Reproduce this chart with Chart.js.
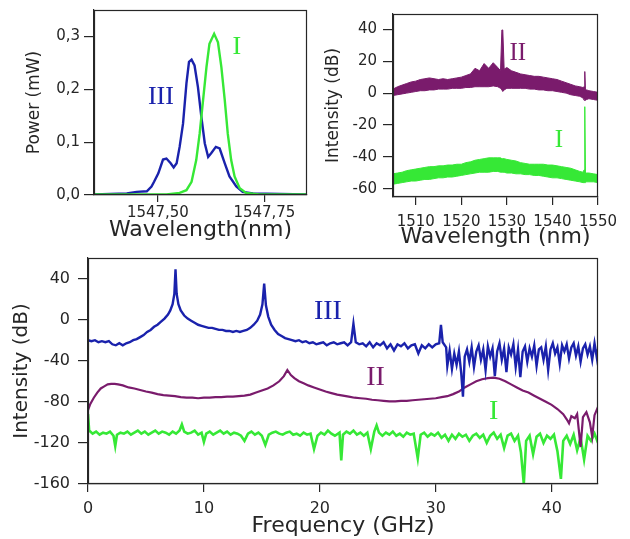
<!DOCTYPE html>
<html>
<head>
<meta charset="utf-8">
<title>Laser spectra</title>
<script src="https://cdn.jsdelivr.net/npm/chart.js@4.4.1/dist/chart.umd.min.js"></script>
<style>
  html, body { margin: 0; padding: 0; background: #fff; }
  #wrap { position: relative; width: 630px; height: 539px; overflow: hidden; }
  canvas { position: absolute; }
  #optical { left: 0; top: -6px; }
  #broad { left: 315px; top: -4px; }
  #rf { left: 0; top: 240px; }
</style>
</head>
<body>
<div id="wrap">
  <canvas id="optical" width="315" height="251"></canvas>
  <canvas id="broad" width="315" height="254"></canvas>
  <canvas id="rf" width="630" height="299"></canvas>
</div>
<script>
// --- top left: optical spectrum, linear power (mW) vs wavelength (nm)
const powerIII = [
  [1547.35, 0.001], [1547.427, 0.003], [1547.45, 0.006], [1547.474, 0.007], [1547.485, 0.016],
  [1547.491, 0.025], [1547.501, 0.041], [1547.512, 0.067], [1547.52, 0.069], [1547.53, 0.06],
  [1547.537, 0.052], [1547.544, 0.06], [1547.551, 0.091], [1547.559, 0.135], [1547.567, 0.211],
  [1547.573, 0.252], [1547.579, 0.256], [1547.586, 0.245], [1547.594, 0.204], [1547.602, 0.148],
  [1547.61, 0.098], [1547.618, 0.072], [1547.625, 0.079], [1547.636, 0.091], [1547.645, 0.088],
  [1547.657, 0.06], [1547.668, 0.035], [1547.684, 0.016], [1547.699, 0.006], [1547.723, 0.003],
  [1547.85, 0.001]
];
const powerI = [
  [1547.35, 0.001], [1547.52, 0.001], [1547.551, 0.004], [1547.567, 0.009], [1547.579, 0.025],
  [1547.59, 0.066], [1547.598, 0.116], [1547.606, 0.179], [1547.614, 0.242], [1547.621, 0.286],
  [1547.632, 0.305], [1547.641, 0.289], [1547.649, 0.242], [1547.657, 0.179], [1547.664, 0.116],
  [1547.672, 0.066], [1547.68, 0.035], [1547.692, 0.013], [1547.707, 0.004], [1547.738, 0.001],
  [1547.85, 0.001]
];
const powerTicks = [0, 0.1, 0.2, 0.3];
const wlTicks1 = [1547.5, 1547.75];

// --- top right: broadband spectra (dB), noisy bands given as upper / lower envelopes
const wl2 = [1505, 1506, 1507, 1508, 1509, 1510, 1511, 1512, 1513, 1514, 1515, 1516, 1517, 1518,
  1519, 1520, 1521, 1522, 1523, 1524, 1525, 1526, 1527, 1528, 1528.6, 1528.9, 1529.1, 1529.4,
  1530, 1531, 1532, 1533, 1534, 1535, 1536, 1537, 1538, 1539, 1540, 1541, 1542, 1543, 1544,
  1545, 1546, 1546.7, 1546.95, 1547.1, 1547.25, 1547.5, 1548, 1549, 1550];
const bandIIHigh = [2.5, 4, 5, 6, 7, 7.5, 8.5, 9, 9.5, 9, 8.5, 9, 8.5, 9,
  9.5, 10, 11, 12, 15.5, 14, 18.5, 15.5, 19, 16, 14, 39.5, 39.5, 15,
  16, 14, 13, 12, 11.5, 11, 10.5, 10.5, 10, 9.5, 9, 8.5, 7.5, 6.5, 5.5,
  4.5, 4, 3.5, 4, 13.5, 2, 2, 1.5, 1, 0.5];
const bandIILow = [-1.5, -1, -0.5, 0, 0.5, 1, 1.5, 1.5, 2, 2, 2.5, 2.5, 2.5, 3,
  3, 3, 3.5, 3.5, 4, 4, 4, 4, 4.5, 4, 3, 2, 1, 2,
  3, 3, 3, 3, 3, 2.5, 2.5, 2, 2, 1.5, 1.5, 1, 0.5, 0, -1,
  -1.5, -2, -3, -4.5, -4.5, -4.5, -4, -3.5, -4, -4.5];
const bandIHigh = [-50.5, -50, -49.5, -48.5, -48, -47.5, -47, -46.5, -46, -46, -45.5, -45.5, -45, -45,
  -44.5, -44.5, -43.5, -43, -42, -41.5, -41, -40.5, -40.5, -40.5, -40.5, -41, -41, -41,
  -41.5, -42, -42.5, -43.5, -44, -44.5, -44.5, -44.5, -44.5, -45, -45, -45.5, -46, -46.5, -47,
  -48, -49, -49.5, -48, -8.5, -50, -50, -50, -50.5, -51];
const bandILow = [-57, -56.5, -56, -55.5, -55, -55, -54.5, -54, -54, -53.5, -53, -53, -52.5, -52.5,
  -52, -51.5, -51, -50.5, -50, -49.5, -49.5, -49.5, -49, -49, -49.5, -49.5, -49.5, -49.5,
  -50, -50, -50.5, -50.5, -51, -51, -51.5, -51.5, -52, -52.5, -53, -53, -53.5, -54, -54.5,
  -55, -55.5, -56, -56, -56, -56, -55.5, -55.5, -55.5, -56];
const dbTicks2 = [-60, -40, -20, 0, 20, 40];
const wlTicks2 = [1510, 1520, 1530, 1540, 1550];

// --- bottom: RF spectra (dB) vs frequency (GHz)
const rfIII = [
  [0, -20], [0.3, -21], [0.6, -20], [0.9, -22], [1.2, -21], [1.5, -22], [1.8, -21], [2.1, -24],
  [2.4, -25], [2.7, -23], [3, -25], [3.3, -23], [3.6, -22], [3.9, -20], [4.2, -19], [4.5, -17],
  [4.8, -15], [5.1, -12], [5.4, -10], [5.7, -7], [6, -5], [6.3, -2], [6.6, 1], [6.9, 5],
  [7.1, 9], [7.3, 15], [7.45, 25], [7.55, 49], [7.65, 25], [7.8, 15], [8, 9], [8.3, 4],
  [8.6, 1], [8.9, -1], [9.2, -3], [9.5, -5], [9.8, -6], [10.1, -7], [10.4, -8], [10.7, -8],
  [11, -9], [11.3, -10], [11.6, -10], [11.9, -11], [12.2, -11], [12.5, -12], [12.8, -11], [13.1, -12],
  [13.4, -11], [13.7, -10], [14, -8], [14.3, -5], [14.6, -1], [14.85, 5], [15.05, 15], [15.2, 35],
  [15.35, 14], [15.55, 3], [15.8, -5], [16.1, -10], [16.4, -14], [16.7, -16], [17, -18], [17.3, -19],
  [17.6, -20], [17.9, -21], [18.2, -20], [18.5, -22], [18.8, -21], [19.1, -23], [19.4, -22], [19.7, -24],
  [20, -23], [20.3, -22], [20.6, -25], [20.9, -23], [21.2, -22], [21.5, -24], [21.8, -23], [22.1, -22],
  [22.4, -25], [22.7, -22], [22.9, -4], [23.1, -22], [23.4, -24], [23.7, -23], [24, -26], [24.3, -22],
  [24.6, -27], [24.9, -23], [25.2, -25], [25.5, -22], [25.8, -28], [26.1, -24], [26.4, -30], [26.7, -24],
  [27, -26], [27.3, -23], [27.6, -28], [27.9, -25], [28.2, -24], [28.5, -33], [28.8, -25], [29.1, -28],
  [29.4, -24], [29.7, -27], [30, -24], [30.3, -23], [30.45, -5], [30.6, -22], [30.9, -27], [31, -45],
  [31.2, -30], [31.4, -48], [31.6, -33], [31.8, -44], [32, -31], [32.2, -52], [32.35, -75], [32.5, -36],
  [32.7, -29], [32.9, -41], [33.1, -27], [33.3, -46], [33.5, -31], [33.7, -25], [33.9, -39], [34.1, -29],
  [34.3, -49], [34.5, -26], [34.7, -36], [34.9, -28], [35.1, -55], [35.3, -31], [35.5, -23], [35.7, -39],
  [35.9, -28], [36.1, -51], [36.3, -27], [36.5, -34], [36.7, -24], [36.9, -46], [37.1, -29], [37.3, -56],
  [37.5, -31], [37.7, -26], [37.9, -41], [38.1, -28], [38.3, -36], [38.5, -25], [38.7, -45], [38.9, -29],
  [39.1, -27], [39.3, -39], [39.5, -26], [39.7, -49], [39.9, -29], [40.1, -23], [40.3, -33], [40.5, -27],
  [40.7, -43], [40.9, -25], [41.1, -31], [41.3, -24], [41.5, -38], [41.7, -27], [41.9, -23], [42.1, -35],
  [42.3, -26], [42.5, -41], [42.7, -28], [42.9, -24], [43.1, -34], [43.3, -26], [43.5, -39], [43.7, -23],
  [43.9, -37], [44, -29]
];
const rfII = [
  [0, -88], [0.2, -82], [0.5, -76], [0.8, -71], [1.1, -67], [1.4, -65], [1.7, -63], [2, -62.5],
  [2.3, -62.5], [2.6, -63], [3, -64], [3.5, -66], [4, -67], [4.5, -68.5], [5, -70], [5.5, -71],
  [6, -72.5], [6.5, -73.5], [7, -74], [7.5, -74.5], [8, -75.5], [8.5, -76], [9, -76], [9.5, -76.5],
  [10, -76], [10.5, -76], [11, -75.5], [11.5, -75.5], [12, -75], [12.5, -75], [13, -74.5], [13.5, -74],
  [14, -73], [14.5, -71], [15, -69], [15.5, -67], [16, -64], [16.5, -60], [16.9, -55], [17.2, -49],
  [17.5, -54], [17.8, -57], [18.2, -60], [18.6, -62], [19, -64], [19.5, -66], [20, -68], [20.5, -70],
  [21, -71.5], [21.5, -73], [22, -74], [22.5, -75], [23, -76], [23.5, -76.5], [24, -77], [24.5, -78],
  [25, -78.5], [25.5, -79], [26, -79.5], [26.5, -79.5], [27, -79], [27.5, -79], [28, -78.5], [28.5, -78],
  [29, -77.5], [29.5, -77], [30, -76.5], [30.5, -75.5], [31, -74.5], [31.5, -72.5], [32, -70], [32.5, -66],
  [33, -63], [33.5, -60], [34, -58], [34.5, -57], [35, -56.5], [35.5, -57.5], [36, -60], [36.5, -63],
  [37, -66], [37.5, -69], [38, -71], [38.5, -74], [39, -77], [39.5, -80], [40, -83], [40.5, -87],
  [41, -92], [41.3, -97], [41.5, -101], [41.7, -94], [42, -96], [42.2, -92], [42.5, -124], [42.7, -95],
  [43, -90], [43.3, -100], [43.5, -114], [43.7, -93], [44, -85]
];
const rfI = [
  [0, -92], [0.1, -108], [0.4, -111], [0.7, -109], [1, -112], [1.3, -110], [1.6, -111], [1.9, -109],
  [2.2, -113], [2.35, -123], [2.5, -112], [2.8, -110], [3.1, -111], [3.4, -109], [3.7, -112], [4, -110],
  [4.3, -108], [4.6, -111], [4.9, -109], [5.2, -112], [5.5, -110], [5.8, -108], [6.1, -111], [6.4, -109],
  [6.7, -110], [7, -112], [7.3, -109], [7.6, -111], [7.9, -108], [8.1, -102], [8.3, -109], [8.6, -111],
  [8.9, -110], [9.2, -108], [9.5, -112], [9.8, -110], [10, -119], [10.2, -111], [10.5, -109], [10.8, -112],
  [11.1, -110], [11.4, -108], [11.7, -111], [12, -109], [12.3, -112], [12.6, -110], [12.9, -111], [13.2, -113],
  [13.5, -118], [13.8, -111], [14.1, -109], [14.4, -112], [14.7, -110], [15, -113], [15.3, -122], [15.6, -112],
  [15.9, -110], [16.2, -109], [16.5, -111], [16.8, -112], [17.1, -110], [17.4, -109], [17.7, -112], [18, -111],
  [18.3, -113], [18.6, -110], [18.9, -112], [19.2, -111], [19.5, -126], [19.8, -113], [20.1, -110], [20.4, -112],
  [20.7, -108], [21, -111], [21.3, -113], [21.7, -110], [21.85, -137], [22, -112], [22.3, -109], [22.6, -111],
  [22.9, -108], [23.2, -112], [23.5, -110], [23.8, -113], [24.1, -110], [24.4, -126], [24.7, -109], [24.9, -103],
  [25.1, -110], [25.4, -113], [25.7, -110], [26, -112], [26.3, -109], [26.6, -113], [26.9, -111], [27.2, -114],
  [27.5, -110], [27.8, -112], [28.1, -111], [28.45, -135], [28.7, -112], [29, -110], [29.3, -114], [29.6, -111],
  [29.9, -113], [30.2, -110], [30.5, -115], [30.8, -112], [31.1, -118], [31.4, -112], [31.7, -116], [32, -111],
  [32.3, -114], [32.6, -112], [32.9, -118], [33.2, -113], [33.5, -111], [33.8, -115], [34.1, -112], [34.4, -120],
  [34.7, -113], [35, -110], [35.3, -116], [35.6, -112], [35.9, -125], [36.2, -113], [36.5, -111], [36.8, -118],
  [37.1, -113], [37.35, -129], [37.6, -160], [37.8, -118], [38.1, -113], [38.4, -131], [38.7, -114], [39, -111],
  [39.3, -120], [39.6, -113], [39.9, -116], [40.2, -112], [40.5, -128], [40.8, -155], [41, -118], [41.3, -113],
  [41.6, -121], [41.9, -112], [42.2, -127], [42.5, -115], [42.8, -136], [43.1, -113], [43.4, -118], [43.7, -111],
  [44, -120]
];
const dbTicks3 = [-160, -120, -80, -40, 0, 40];
const freqTicks = [0, 10, 20, 30, 40];

const FONT = "'DejaVu Sans', sans-serif";
const SERIF = "'Liberation Serif', 'DejaVu Serif', serif";
const INK = '#262626';
const BLUE = '#1a22ac';
const PURPLE = '#7a1b6c';
const GREEN = '#36e836';

const comma = d => v => v.toFixed(d).replace('.', ',');

function axis(o) {
  return {
    type: 'linear',
    min: o.min,
    max: o.max,
    afterBuildTicks: s => { s.ticks = o.ticks.map(v => ({ value: v })); },
    afterFit: s => { if (s.isHorizontal()) s.height = o.size; else s.width = o.size; },
    grid: { drawOnChartArea: false, drawTicks: true, tickLength: o.tickLen, color: INK, lineWidth: 1.2 },
    border: { display: true, color: INK, width: 1.2 },
    ticks: {
      color: INK, padding: o.pad, maxRotation: 0, autoSkip: false,
      font: { family: FONT, size: o.fontSize },
      callback: o.fmt || (v => String(v))
    },
    title: {
      display: true, text: o.title, color: INK,
      font: { family: FONT, size: o.titleSize }, padding: o.titlePad
    }
  };
}

const line = (pairs, color, width) => ({
  data: pairs.map(([x, y]) => ({ x, y })),
  borderColor: color,
  borderWidth: width,
  pointRadius: 0,
  tension: 0,
  fill: false
});

const band = (ys, color, fill) => ({
  data: wl2.map((x, i) => ({ x, y: ys[i] })),
  borderColor: color,
  backgroundColor: color,
  borderWidth: 1,
  pointRadius: 0,
  fill
});

// box around the plot area
const frame = {
  id: 'frame',
  afterDraw(chart) {
    const { ctx, chartArea: a } = chart;
    ctx.save();
    ctx.strokeStyle = INK;
    ctx.lineWidth = 1.2;
    ctx.strokeRect(Math.round(a.left) + 0.5, Math.round(a.top) + 0.5,
      Math.round(a.right - a.left) - 1, Math.round(a.bottom - a.top) - 1);
    ctx.restore();
  }
};

// roman numeral tags next to each trace
function tagPlugin(items, size) {
  return {
    id: 'tags',
    afterDatasetsDraw(chart) {
      const { ctx, scales: { x, y } } = chart;
      ctx.save();
      ctx.font = size + 'px ' + SERIF;
      ctx.textAlign = 'center';
      ctx.textBaseline = 'middle';
      items.forEach(t => {
        ctx.fillStyle = t.color;
        ctx.fillText(t.text, x.getPixelForValue(t.x), y.getPixelForValue(t.y));
      });
      ctx.restore();
    }
  };
}

function plot(id, datasets, x, y, padding, tags, tagSize) {
  new Chart(document.getElementById(id), {
    type: 'line',
    data: { datasets },
    options: {
      responsive: false,
      animation: false,
      devicePixelRatio: 1,
      events: [],
      layout: { padding },
      plugins: { legend: { display: false }, tooltip: { enabled: false } },
      scales: { x, y }
    },
    plugins: [frame, tagPlugin(tags, tagSize)]
  });
}

plot('optical',
  [line(powerI, GREEN, 2.4), line(powerIII, BLUE, 2.4)],
  axis({ min: 1547.35, max: 1547.85, ticks: wlTicks1, fmt: comma(2), size: 50, tickLen: 7, pad: 2,
    fontSize: 15, title: 'Wavelength(nm)', titleSize: 22, titlePad: { top: 0, bottom: 2 } }),
  axis({ min: 0, max: 0.35, ticks: powerTicks, fmt: comma(1), size: 94, tickLen: 10, pad: 4,
    fontSize: 15, title: 'Power (mW)', titleSize: 17, titlePad: { top: 24, bottom: 0 } }),
  { top: 16, right: 8, left: 0, bottom: 0 },
  [{ text: 'III', x: 1547.507, y: 0.185, color: BLUE }, { text: 'I', x: 1547.685, y: 0.279, color: GREEN }],
  26);

plot('broad',
  [band(bandIILow, PURPLE, false), band(bandIIHigh, PURPLE, '-1'),
   band(bandILow, GREEN, false), band(bandIHigh, GREEN, '-1')],
  axis({ min: 1505, max: 1550, ticks: wlTicks2, size: 53, tickLen: 8, pad: 8,
    fontSize: 15, title: 'Wavelength (nm)', titleSize: 22, titlePad: { top: 0, bottom: 0 } }),
  axis({ min: -65, max: 49.5, ticks: dbTicks2, size: 78, tickLen: 10, pad: 6,
    fontSize: 15, title: 'Intensity (dB)', titleSize: 17, titlePad: { top: 8, bottom: 0 } }),
  { top: 18, right: 32, left: 0, bottom: 0 },
  [{ text: 'II', x: 1532.4, y: 25, color: PURPLE }, { text: 'I', x: 1541.4, y: -29.4, color: GREEN }],
  25);

plot('rf',
  [line(rfIII, BLUE, 2.4), line(rfII, PURPLE, 2.2), line(rfI, GREEN, 2.6)],
  axis({ min: 0, max: 44, ticks: freqTicks, size: 55, tickLen: 8, pad: 7,
    fontSize: 16, title: 'Frequency (GHz)', titleSize: 22, titlePad: { top: 0, bottom: 0 } }),
  axis({ min: -160, max: 60, ticks: dbTicks3, size: 88, tickLen: 10, pad: 8,
    fontSize: 16, title: 'Intensity (dB)', titleSize: 20, titlePad: { top: 10, bottom: 0 } }),
  { top: 18, right: 32, left: 0, bottom: 0 },
  [{ text: 'III', x: 20.7, y: 7.8, color: BLUE }, { text: 'II', x: 24.8, y: -56.6, color: PURPLE },
   { text: 'I', x: 35.0, y: -89.8, color: GREEN }],
  28);
</script>
</body>
</html>
